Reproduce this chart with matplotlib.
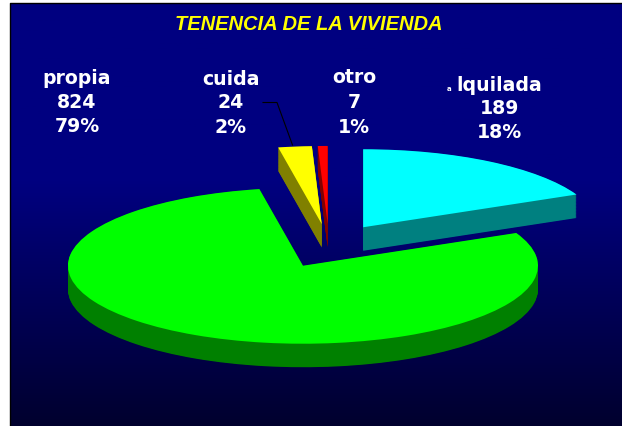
import numpy as np
import matplotlib
matplotlib.use("Agg")
import matplotlib.pyplot as plt
from matplotlib.colors import LinearSegmentedColormap
from matplotlib.lines import Line2D

title = "TENENCIA DE LA VIVIENDA"
names = ["lquilada", "propia", "cuida", "otro"]
values = [189, 824, 24, 7]
percents = [18, 79, 2, 1]
explode = [0.27, 0.27, 0.27, 0.27]
top_colors = ["#00FFFF", "#00FF00", "#FFFF00", "#FF0000"]
side_colors = ["#008080", "#008000", "#808000", "#800000"]

W, H = 622, 427
CX, CY, RX, RY = 329, 246, 235, 78   # pie centre and radii, pixels
DEPTH = 23.5 / RY
GREEN_DX, GREEN_DY = 3 / RX, -2 / RY  # the large slice sits slightly off its radial position
LABEL_FONT = dict(family="DejaVu Sans", weight="bold", color="white", size=13.6, ha="center", va="baseline")

fig = plt.figure(figsize=(W / 100, H / 100), dpi=100, facecolor="white")

# Background panel with gradient
bg = fig.add_axes([10 / W, 0, (W - 10) / W, (H - 4) / H])
cmap = LinearSegmentedColormap.from_list("bg", [(0, "#000080"), (0.42, "#000080"), (1, "#00002E")])
bg.imshow(np.linspace(0, 1, 256)[:, None], aspect="auto", cmap=cmap, vmin=0, vmax=1)
bg.set_axis_off()

ax = fig.add_axes([0, 0, 1, 1])
ax.patch.set_alpha(0)


def draw_pie(colors, drop):
    wedges, _ = ax.pie(values, explode=explode, colors=colors, startangle=90, counterclock=False,
                       center=(0, -drop), radius=1, wedgeprops=dict(linewidth=0), frame=False)
    cx, cy = wedges[1].center
    wedges[1].set_center((cx + GREEN_DX, cy + GREEN_DY))


for d in np.linspace(DEPTH, 0.005, 40):
    draw_pie(side_colors, d)
draw_pie(top_colors, 0)

ax.set_aspect("auto")
ax.set_xlim(-CX / RX, (W - CX) / RX)
ax.set_ylim(-(H - CY) / RY, CY / RY)
ax.set_position([0, 0, 1, 1])
ax.set_axis_off()


def px(x, y):
    return x / W, 1 - y / H


# Panel border on the top and left
fig.add_artist(Line2D([10 / W, 10 / W, 1], [0, 1 - 4 / H, 1 - 4 / H], color="black", lw=1.0))

# Leader line of the "cuida" label
xs, ys = zip(px(263, 103.5), px(277, 103.5), px(292.5, 146))
fig.add_artist(Line2D(xs, ys, color="black", lw=0.8))

fig.text(*px(308.5, 30), title, family="Liberation Sans", weight="bold", style="italic",
         color="#FFFF00", size=14.5, ha="center", va="baseline")

label_x = [499.5, 77, 231, 354]
label_y = [(91, 114, 138), (84, 108, 132), (85, 108, 133), (83, 108, 133)]
for name, val, pct, x, ys3 in zip(names, values, percents, label_x, label_y):
    for line, y in zip((name, str(val), f"{pct}%"), ys3):
        fig.text(*px(x, y), line, **LABEL_FONT)

# The small detached "a" of the first label
fig.text(*px(449.5, 91), "a", family="DejaVu Sans", weight="bold", color="white", size=5,
         ha="center", va="baseline")

fig.savefig("out.png", dpi=100, facecolor="white")
